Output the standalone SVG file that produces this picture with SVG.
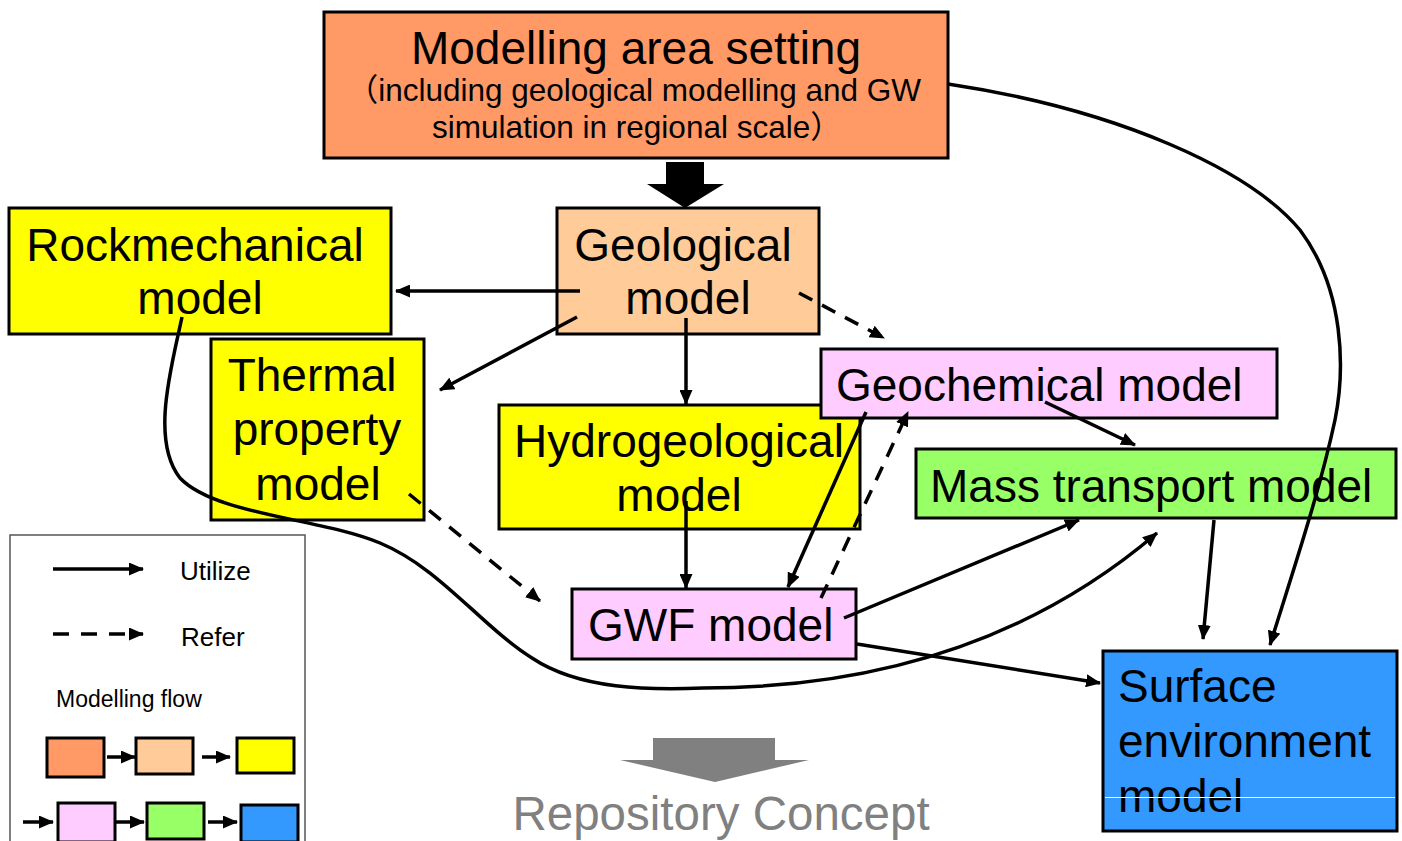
<svg xmlns="http://www.w3.org/2000/svg" width="1402" height="841" viewBox="0 0 1402 841">
  <style>
    .box { stroke: #000; stroke-width: 3; }
    .t { font-family: "Liberation Sans", "Noto Sans CJK JP", Arial, sans-serif; fill: #000; }
    .big { font-size: 46px; }
    .sub { font-size: 31.5px; }
    .mid { text-anchor: middle; }
    .c { fill: none; stroke: #000; stroke-width: 3.5; }
    .u { marker-end: url(#ah); }
    .d { stroke-dasharray: 15 11; }
    .lg { font-size: 26px; }
  </style>
  <defs>
    <marker id="ah" viewBox="0 0 15 13" refX="14" refY="6.5" markerWidth="15" markerHeight="13" markerUnits="userSpaceOnUse" orient="auto">
      <path d="M0,0 L15,6.5 L0,13 z" fill="#000"/>
    </marker>
  </defs>

  <rect width="1402" height="841" fill="#fff"/>

  <!-- nodes -->
  <g id="modelling-area">
    <rect class="box" x="324" y="12" width="624" height="146" fill="#FF9966"/>
    <text class="t big mid" x="636" y="64">Modelling area setting</text>
    <text class="t sub" x="921" y="101" text-anchor="end">（including geological modelling and GW</text>
    <text class="t sub" x="432" y="138">simulation in regional scale）</text>
  </g>

  <g id="flow-arrow">
    <polygon points="666,162 704,162 704,184 724,184 685,208 647,184 666,184" fill="#000"/>
  </g>

  <g id="geological">
    <rect class="box" x="557" y="208" width="262" height="126" fill="#FFCC99"/>
    <text class="t big mid" x="683" y="261">Geological</text>
    <text class="t big mid" x="688" y="314">model</text>
  </g>

  <g id="rockmechanical">
    <rect class="box" x="9" y="208" width="382" height="126" fill="#FFFF00"/>
    <text class="t big mid" x="195" y="261">Rockmechanical</text>
    <text class="t big mid" x="200" y="314">model</text>
  </g>

  <g id="thermal">
    <rect class="box" x="211" y="339" width="213" height="181" fill="#FFFF00"/>
    <text class="t big mid" x="312" y="391">Thermal</text>
    <text class="t big mid" x="317" y="445">property</text>
    <text class="t big mid" x="318" y="500">model</text>
  </g>

  <g id="hydrogeological">
    <rect class="box" x="499" y="405" width="361" height="124" fill="#FFFF00"/>
    <text class="t big mid" x="679" y="457">Hydrogeological</text>
    <text class="t big mid" x="679" y="511">model</text>
  </g>

  <g id="geochemical">
    <rect class="box" x="821" y="349" width="456" height="69" fill="#FFCCFF"/>
    <text class="t big" x="836" y="401">Geochemical model</text>
  </g>

  <g id="mass-transport">
    <rect class="box" x="916" y="449" width="480" height="69" fill="#99FF66"/>
    <text class="t big" x="930" y="502">Mass transport model</text>
  </g>

  <g id="gwf">
    <rect class="box" x="572" y="589" width="284" height="70" fill="#FFCCFF"/>
    <text class="t big" x="588" y="641">GWF model</text>
  </g>

  <g id="surface-environment">
    <rect class="box" x="1103" y="651" width="294" height="180" fill="#3399FF"/>
    <text class="t big" x="1118" y="702">Surface</text>
    <text class="t big" x="1118" y="757">environment</text>
    <text class="t big" x="1118" y="812">model</text>
    <line x1="1105" y1="797.5" x2="1395" y2="797.5" stroke="#fff" stroke-width="1"/>
  </g>

  <!-- connectors -->
  <g id="connectors">
    <line class="c u" x1="580" y1="291" x2="396" y2="291"/>
    <line class="c u" x1="577" y1="317" x2="440" y2="390"/>
    <line class="c u" x1="686" y1="318" x2="686" y2="404"/>
    <line class="c u d" x1="799" y1="293" x2="884" y2="338"/>
    <line class="c u" x1="686" y1="501" x2="686" y2="588"/>
    <line class="c u" x1="866" y1="412" x2="788" y2="587"/>
    <line class="c u d" x1="821" y1="598" x2="908" y2="412"/>
    <line class="c u" x1="1045" y1="402" x2="1135" y2="445"/>
    <line class="c u" x1="844" y1="618" x2="1079" y2="520"/>
    <line class="c u" x1="857" y1="644" x2="1100" y2="683"/>
    <line class="c u" x1="1214" y1="520" x2="1203" y2="639"/>
    <line class="c u d" x1="409" y1="494" x2="540" y2="601"/>
    <path class="c u" d="M182,317 C172,365 150,440 180,478 C215,515 320,518 380,543 C440,568 480,625 532,658 C580,690 650,690 703,688 C860,688 1020,650 1157,533"/>
    <path class="c u" stroke-width="3" d="M948,84 C1120,110 1250,170 1300,230 C1345,290 1345,370 1335,420 C1320,490 1295,565 1270,645"/>
  </g>

  <!-- legend -->
  <g id="legend">
    <path d="M10,842 V535 H305 V842" fill="none" stroke="#555" stroke-width="1.5"/>
    <line class="c u" x1="53" y1="569" x2="143" y2="569"/>
    <text class="t lg" x="180" y="580">Utilize</text>
    <line class="c u" x1="53" y1="634" x2="143" y2="634" stroke-dasharray="16 12"/>
    <text class="t lg" x="181" y="646">Refer</text>
    <text class="t" x="56" y="707" font-size="23">Modelling flow</text>
    <rect class="box" x="47" y="738" width="57" height="39" fill="#FF9966"/>
    <rect class="box" x="136" y="738" width="57" height="36" fill="#FFCC99"/>
    <rect class="box" x="237" y="738" width="57" height="35" fill="#FFFF00"/>
    <rect class="box" x="58" y="803" width="57" height="39" fill="#FFCCFF"/>
    <rect class="box" x="147" y="803" width="57" height="36" fill="#99FF66"/>
    <rect class="box" x="241" y="805" width="57" height="37" fill="#3399FF"/>
    <line class="c u" x1="107" y1="757" x2="135" y2="757"/>
    <line class="c u" x1="202" y1="757" x2="230" y2="757"/>
    <line class="c u" x1="23" y1="822" x2="53" y2="822"/>
    <line class="c u" x1="116" y1="822" x2="144" y2="822"/>
    <line class="c u" x1="208" y1="822" x2="237" y2="822"/>
  </g>

  <!-- outcome -->
  <g id="repository-concept">
    <polygon points="653,738 775,738 775,760 809,760 715,782 620,760 653,760" fill="#808080"/>
    <text class="t" x="721" y="830" font-size="47.5" text-anchor="middle" style="fill:#808080">Repository Concept</text>
  </g>
</svg>
